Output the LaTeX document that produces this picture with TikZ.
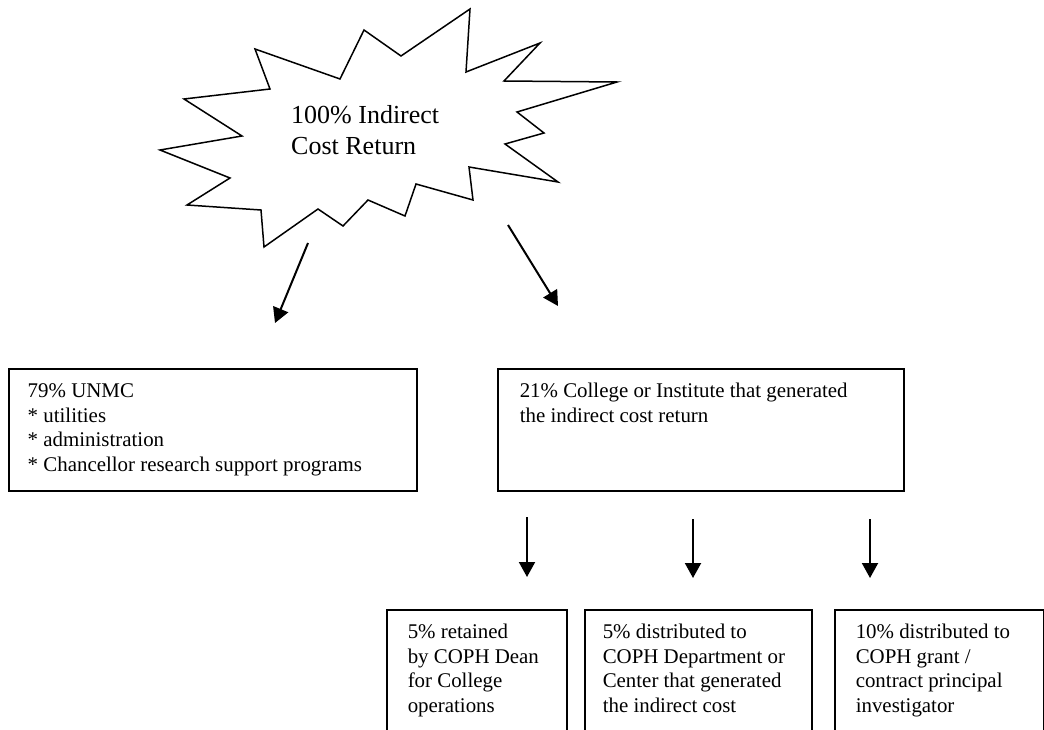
\documentclass[tikz,border=0pt]{standalone}
\usepackage{fontspec}
\setmainfont{Liberation Serif}
\usetikzlibrary{arrows.meta}
\newcommand{\boxbody}[5]{\parbox[c][#2pt][t]{#1pt}{\vspace*{#3pt}\hspace*{#4pt}\begin{tabular}[t]{@{}l@{}}#5\end{tabular}}}
\begin{document}
\begin{tikzpicture}[x=1pt,y=-1pt,
  boxstyle/.style={draw, line width=1.5pt, inner sep=0pt, anchor=north west,
    font=\fontsize{20.9}{24.6}\selectfont},
  arrowstyle/.style={line width=2pt, -{Triangle[length=15pt,width=16pt]}},
  burst/.style={line width=1.5pt, line join=miter}]
\useasboundingbox (0,0) rectangle (1044,730);
\clip (0,0) rectangle (1044,730);
% starburst
\draw[burst] (255,49) -- (340,79) -- (364,30) -- (401,56) -- (470,9) -- (466,72)
  -- (540,43) -- (504,81) -- (617,82) -- (517,112) -- (544,133) -- (505,144)
  -- (558,182) -- (469,167) -- (473,200) -- (416,184) -- (405,216) -- (368,200)
  -- (343,226) -- (318,209) -- (264,247) -- (261,210) -- (187,205) -- (230,178)
  -- (160,150) -- (242,136) -- (184,99) -- (270,89) -- cycle;
\node[anchor=base west, inner sep=0pt, font=\fontsize{26}{31}\selectfont] (star) at (291,124)
  {\begin{tabular}[t]{@{}l@{}}100\% Indirect\\Cost Return\end{tabular}};
% boxes
\node[boxstyle] (unmc) at (8,368) {\boxbody{408}{122}{11.78}{19}{79\% UNMC\\{*} utilities\\{*} administration\\{*} Chancellor research support programs}};
\node[boxstyle] (college) at (497,368) {\boxbody{406}{122}{11.78}{22}{21\% College or Institute that generated\\the indirect cost return}};
\node[boxstyle] (dean) at (386,609) {\boxbody{180}{140}{11.78}{21}{5\% retained\\by COPH Dean\\for College\\operations}};
\node[boxstyle] (dept) at (584,609) {\boxbody{227}{140}{11.78}{18}{5\% distributed to\\COPH Department or\\Center that generated\\the indirect cost}};
\node[boxstyle] (pi) at (834,609) {\boxbody{209}{140}{11.78}{21}{10\% distributed to\\COPH grant /\\contract principal\\investigator}};
% arrow ends
\coordinate (s1) at (308,243); \coordinate (e1) at (275,323);
\coordinate (s2) at (508,225); \coordinate (e2) at (558,306);
\coordinate (s3) at (527,517); \coordinate (e3) at (527,577);
\coordinate (s4) at (693,519); \coordinate (e4) at (693,578);
\coordinate (s5) at (870,519); \coordinate (e5) at (870,578);
\draw[arrowstyle] (s1) -- (e1);
\draw[arrowstyle] (s2) -- (e2);
\draw[arrowstyle] (s3) -- (e3);
\draw[arrowstyle] (s4) -- (e4);
\draw[arrowstyle] (s5) -- (e5);
\end{tikzpicture}
\end{document}
